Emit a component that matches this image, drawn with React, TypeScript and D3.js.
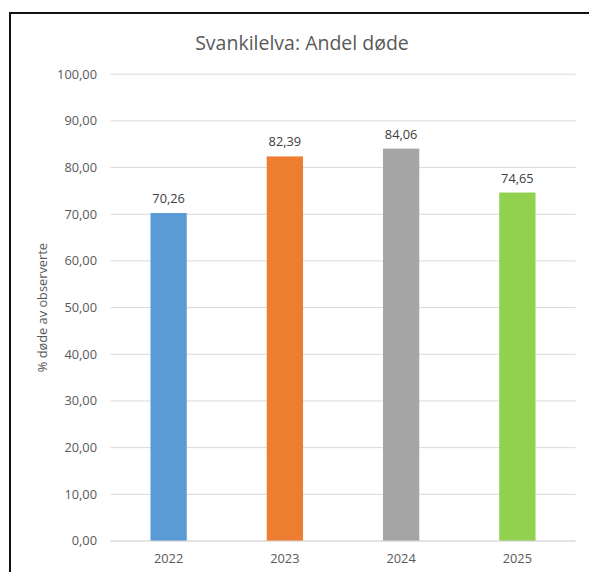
import React from "react";
import * as d3 from "d3";

const categories = ["2022", "2023", "2024", "2025"];
const values = [70.26, 82.39, 84.06, 74.65];
const colors = ["#5B9BD5", "#ED7D31", "#A5A5A5", "#92D050"];
const yTicks = [0, 10, 20, 30, 40, 50, 60, 70, 80, 90, 100];

const W = 589;
const H = 572;
const FONT = "'Open Sans', 'Noto Sans', sans-serif";

export default function App() {
  const x = d3.scaleBand<string>().domain(categories).range([110.5, 575.5]).paddingInner(0.688).paddingOuter(0.344);
  const y = d3.scaleLinear().domain([0, 100]).range([541, 74.2]);
  const fmt = (v: number) => v.toFixed(2).replace(".", ",");

  return (
    <svg width={W} height={H} style={{ position: "absolute", left: 0, top: 0, background: "#fff" }} fontFamily={FONT}>
      <rect x={0} y={0} width={W} height={H} fill="#fff" />
      <rect x={10} y={13} width={620} height={600} fill="none" stroke="#111" strokeWidth={2} />
      <text x={302} y={50} textAnchor="middle" fontSize={19.5} fill="#595959">Svankilelva: Andel døde</text>
      {yTicks.map((t) => (
        <g key={t}>
          <line x1={110.5} x2={575.5} y1={y(t)} y2={y(t)} stroke="#D9D9D9" strokeWidth={1} />
          <text x={97} y={y(t)} dy="0.35em" textAnchor="end" fontSize={12.8} fill="#595959">{fmt(t)}</text>
        </g>
      ))}
      {categories.map((c, i) => (
        <g key={c}>
          <rect x={x(c)!} y={y(values[i])} width={x.bandwidth()} height={y(0) - y(values[i])} fill={colors[i]} />
          <text x={x(c)! + x.bandwidth() / 2} y={y(values[i]) - 10} textAnchor="middle" fontSize={12.8} fill="#404040">{fmt(values[i])}</text>
          <text x={x(c)! + x.bandwidth() / 2} y={559} dy="0.35em" textAnchor="middle" fontSize={12.8} fill="#595959">{c}</text>
        </g>
      ))}
      <line x1={110.5} x2={575.5} y1={y(0)} y2={y(0)} stroke="#D9D9D9" strokeWidth={1} />
      <text transform={`translate(43,${(y(0) + y(100)) / 2}) rotate(-90)`} textAnchor="middle" dy="0.35em" fontSize={12.8} fill="#595959">% døde av observerte</text>
    </svg>
  );
}
